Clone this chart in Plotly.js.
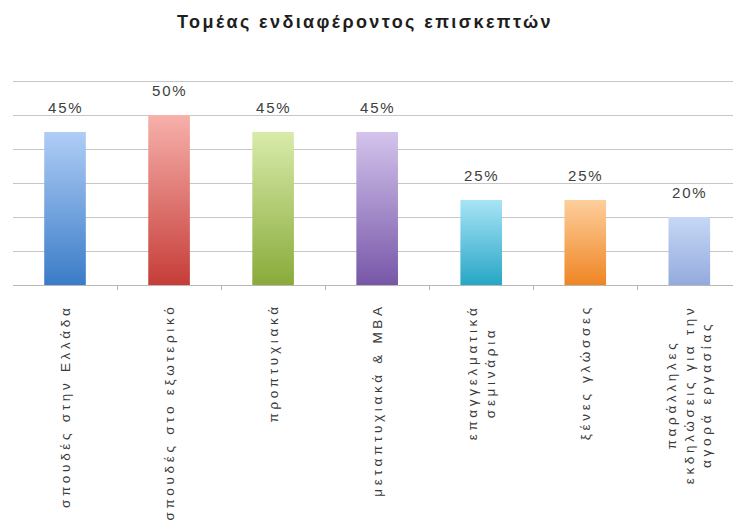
<!DOCTYPE html>
<html>
<head>
<meta charset="utf-8">
<script src="https://cdn.plot.ly/plotly-3.0.1.min.js"></script>
<style>
html,body{margin:0;padding:0;background:#fff;}
#chart{width:733px;height:527px;}
</style>
</head>
<body>
<div id="chart"></div>
<script>
const categories = [
  "σπουδές στην Ελλάδα",
  "σπουδές στο εξωτερικό",
  "προπτυχιακά",
  "μεταπτυχιακά & MBA",
  "επαγγελματικά<br>σεμινάρια",
  "ξένες γλώσσες",
  "παράλληλες<br>εκδηλώσεις για την<br>αγορά εργασίας"
];
const values = [45, 50, 45, 45, 25, 25, 20];
const valueLabels = ["45%", "50%", "45%", "45%", "25%", "25%", "20%"];
const yTickValues = [0, 10, 20, 30, 40, 50, 60];

const topColors    = ["#b0cdf6", "#f7b0ab", "#d8ebaa", "#d3c4ec", "#a8e4f6", "#fdcf9c", "#c6d8f6"];
const bottomColors = ["#3a7cc7", "#c63d38", "#89ab3a", "#7756a8", "#27a6c6", "#ef8524", "#93aadc"];

const FONT = "Liberation Sans, Arial, sans-serif";
const idx = categories.map((c, i) => i);

function spaced(t, ls) { return '<span style="letter-spacing:' + ls + 'px">' + t + '</span>'; }
function spacedLines(t, ls) { return t.split('<br>').map(s => spaced(s, ls)).join('<br>'); }

const trace = {
  type: 'bar',
  x: idx,
  y: values,
  width: 0.4,
  marker: { color: bottomColors, line: { width: 0 } },
  hoverinfo: 'skip'
};

const valueAnnotations = values.map((v, i) => ({
  x: i, y: v, xref: 'x', yref: 'y',
  text: spaced(valueLabels[i], 1.8),
  showarrow: false, yanchor: 'middle', xanchor: 'center', yshift: 25,
  font: { family: FONT, size: 15, color: '#404040' }
}));

const catAnnotations = categories.map((c, i) => ({
  x: i, y: 0, xref: 'x', yref: 'paper',
  text: spacedLines(c, 3.7),
  showarrow: false, textangle: -90, align: 'center',
  xanchor: 'center', yanchor: 'top', yshift: -17,
  font: { family: FONT, size: 13.5, color: '#3a3a3a' }
}));

const layout = {
  width: 733, height: 527,
  margin: { l: 13, r: 0, t: 80, b: 242 },
  paper_bgcolor: '#ffffff', plot_bgcolor: '#ffffff',
  showlegend: false,
  title: {
    text: spaced('<b>Τομέας ενδιαφέροντος επισκεπτών</b>', 2.4),
    font: { family: FONT, size: 18, color: '#1e1e1e' },
    x: 365 / 733, xanchor: 'center', xref: 'container',
    y: 1 - 22 / 527, yref: 'container', yanchor: 'middle'
  },
  xaxis: {
    type: 'linear', range: [-0.5, 6.42],
    tickmode: 'array', tickvals: idx.map(i => i + 0.5), ticktext: idx.map(() => ''),
    ticks: 'outside', ticklen: 4, tickcolor: '#b8b8b8', tickwidth: 1,
    showline: true, linecolor: '#b8b8b8', linewidth: 1,
    showgrid: false, zeroline: false, fixedrange: true
  },
  yaxis: {
    range: [0, 60.3], tickmode: 'array', tickvals: yTickValues,
    showticklabels: false, ticks: '',
    showgrid: true, gridcolor: '#c6c6c6', gridwidth: 1,
    zeroline: false, showline: false, fixedrange: true
  },
  annotations: valueAnnotations.concat(catAnnotations)
};

function applyGradients() {
  const gd = document.getElementById('chart');
  const svg = gd.querySelector('svg.main-svg');
  if (!svg) return;
  let defs = svg.querySelector('defs');
  if (!defs) { defs = document.createElementNS('http://www.w3.org/2000/svg', 'defs'); svg.insertBefore(defs, svg.firstChild); }
  topColors.forEach((tc, i) => {
    const id = 'bargrad' + i;
    if (defs.querySelector('#' + id)) return;
    const lg = document.createElementNS('http://www.w3.org/2000/svg', 'linearGradient');
    lg.setAttribute('id', id);
    lg.setAttribute('x1', '0'); lg.setAttribute('y1', '0');
    lg.setAttribute('x2', '0'); lg.setAttribute('y2', '1');
    [[0, tc], [1, bottomColors[i]]].forEach(([o, c]) => {
      const s = document.createElementNS('http://www.w3.org/2000/svg', 'stop');
      s.setAttribute('offset', String(o));
      s.setAttribute('stop-color', c);
      lg.appendChild(s);
    });
    defs.appendChild(lg);
  });
  const paths = gd.querySelectorAll('.barlayer .point path');
  paths.forEach((p, i) => { p.style.fill = 'url(#bargrad' + i + ')'; });
}

Plotly.newPlot('chart', [trace], layout, { staticPlot: true, displayModeBar: false })
  .then(gd => { applyGradients(); gd.on('plotly_afterplot', applyGradients); });
</script>
</body>
</html>
